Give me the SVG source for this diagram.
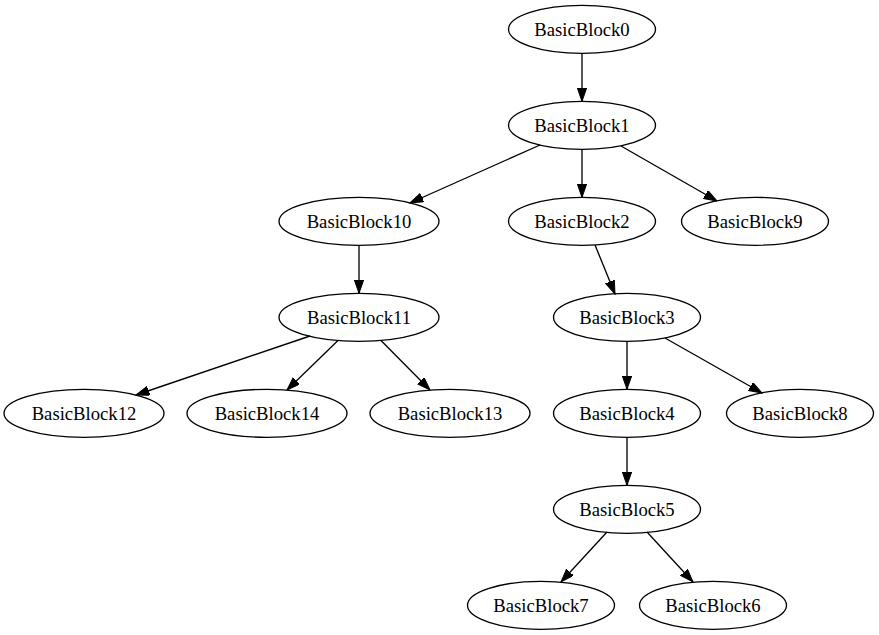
<svg xmlns="http://www.w3.org/2000/svg" width="879" height="635" viewBox="0 0 879 635">
<style>
.node ellipse{fill:none;stroke:#000;stroke-width:1.33}
.node text{font-family:"Liberation Serif","Times New Roman",serif;font-size:18.67px;text-anchor:middle;fill:#000}
.edges line{stroke:#000;stroke-width:1.33;marker-end:url(#arr)}
</style>
<defs>
<marker id="arr" markerUnits="userSpaceOnUse" markerWidth="14" markerHeight="10" refX="13.3" refY="4.67" orient="auto">
<path d="M0,0 L13.3,4.67 L0,9.33 Z" fill="#000" stroke="#000" stroke-width="1"/>
</marker>
</defs>
<rect width="879" height="635" fill="#fff"/>
<g class="edges">
<line x1="582" y1="53.3" x2="582" y2="101.3"/>
<line x1="540" y1="145" x2="410" y2="203"/>
<line x1="582" y1="149.3" x2="582" y2="197.3"/>
<line x1="621" y1="146" x2="717" y2="201"/>
<line x1="359" y1="245.3" x2="359" y2="293.3"/>
<line x1="595" y1="245" x2="615" y2="294"/>
<line x1="310" y1="336" x2="136" y2="395"/>
<line x1="338" y1="340.5" x2="287" y2="390"/>
<line x1="381" y1="340.5" x2="430" y2="390"/>
<line x1="627" y1="341.3" x2="627" y2="389.3"/>
<line x1="665" y1="338" x2="762" y2="393"/>
<line x1="627" y1="437.3" x2="627" y2="485.3"/>
<line x1="607" y1="532" x2="561" y2="582"/>
<line x1="647" y1="532" x2="693" y2="582"/>
</g>
<g id="BasicBlock0" class="node"><ellipse cx="582" cy="29.3" rx="73.5" ry="24"/><text x="582" y="35.5">BasicBlock0</text></g>
<g id="BasicBlock1" class="node"><ellipse cx="582" cy="125.3" rx="73.5" ry="24"/><text x="582" y="131.5">BasicBlock1</text></g>
<g id="BasicBlock10" class="node"><ellipse cx="359" cy="221.3" rx="80" ry="24"/><text x="359" y="227.5">BasicBlock10</text></g>
<g id="BasicBlock2" class="node"><ellipse cx="582" cy="221.3" rx="73.5" ry="24"/><text x="582" y="227.5">BasicBlock2</text></g>
<g id="BasicBlock9" class="node"><ellipse cx="755" cy="221.3" rx="73.5" ry="24"/><text x="755" y="227.5">BasicBlock9</text></g>
<g id="BasicBlock11" class="node"><ellipse cx="359" cy="317.3" rx="80" ry="24"/><text x="359" y="323.5">BasicBlock11</text></g>
<g id="BasicBlock3" class="node"><ellipse cx="627" cy="317.3" rx="73.5" ry="24"/><text x="627" y="323.5">BasicBlock3</text></g>
<g id="BasicBlock12" class="node"><ellipse cx="84" cy="413.3" rx="80" ry="24"/><text x="84" y="419.5">BasicBlock12</text></g>
<g id="BasicBlock14" class="node"><ellipse cx="267" cy="413.3" rx="80" ry="24"/><text x="267" y="419.5">BasicBlock14</text></g>
<g id="BasicBlock13" class="node"><ellipse cx="450" cy="413.3" rx="80" ry="24"/><text x="450" y="419.5">BasicBlock13</text></g>
<g id="BasicBlock4" class="node"><ellipse cx="627" cy="413.3" rx="73.5" ry="24"/><text x="627" y="419.5">BasicBlock4</text></g>
<g id="BasicBlock8" class="node"><ellipse cx="800" cy="413.3" rx="73.5" ry="24"/><text x="800" y="419.5">BasicBlock8</text></g>
<g id="BasicBlock5" class="node"><ellipse cx="627" cy="509.3" rx="73.5" ry="24"/><text x="627" y="515.5">BasicBlock5</text></g>
<g id="BasicBlock7" class="node"><ellipse cx="541" cy="605.3" rx="73.5" ry="24"/><text x="541" y="611.5">BasicBlock7</text></g>
<g id="BasicBlock6" class="node"><ellipse cx="713" cy="605.3" rx="73.5" ry="24"/><text x="713" y="611.5">BasicBlock6</text></g>
</svg>
